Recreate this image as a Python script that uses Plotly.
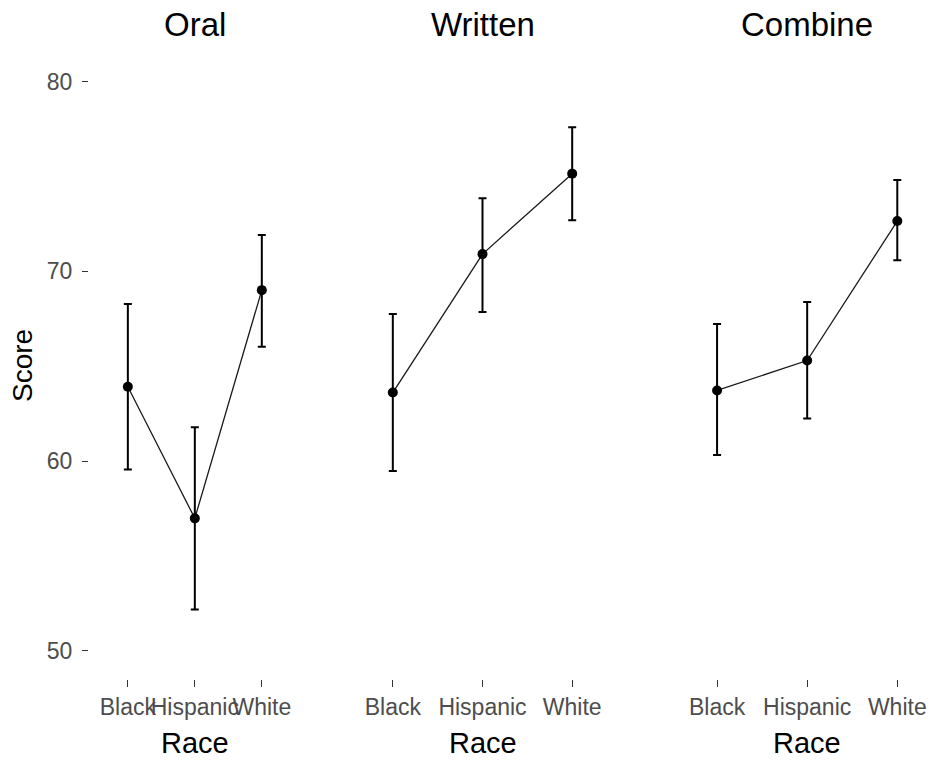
import plotly.graph_objects as go

# Group means and interval bounds by race, for each score type
races = ["Black", "Hispanic", "White"]
panels = ["Oral", "Written", "Combine"]

oral_mean = [63.92, 56.98, 69.01]
oral_lo = [59.56, 52.18, 66.03]
oral_hi = [68.28, 61.78, 71.91]

written_mean = [63.61, 70.91, 75.15]
written_lo = [59.47, 67.86, 72.70]
written_hi = [67.75, 73.86, 77.60]

combine_mean = [63.72, 65.30, 72.65]
combine_lo = [60.32, 62.24, 70.59]
combine_hi = [67.23, 68.38, 74.82]

y_ticks = [50, 60, 70, 80]

W, H = 930, 763
FONT = "Liberation Sans, Arial, sans-serif"
TICK_GREY = "#4D4D4D"

series = [
    (oral_mean, oral_lo, oral_hi),
    (written_mean, written_lo, written_hi),
    (combine_mean, combine_lo, combine_hi),
]

# panel extents in pixels and category ranges for each x axis
panel_px = [(89, 302), (339, 626), (663, 930)]
x_ranges = [[-0.58, 2.6], [-0.6, 2.6], [-0.6, 2.363]]

fig = go.Figure()
for i, (mean, lo, hi) in enumerate(series):
    xa = "x" if i == 0 else f"x{i + 1}"
    fig.add_trace(go.Scatter(
        x=races, y=mean, xaxis=xa, yaxis="y",
        mode="lines+markers",
        line=dict(color="#1a1a1a", width=1.3),
        marker=dict(color="black", size=10),
        error_y=dict(
            type="data", symmetric=False,
            array=[h - m for h, m in zip(hi, mean)],
            arrayminus=[m - l for m, l in zip(mean, lo)],
            color="black", thickness=2, width=4,
        ),
        showlegend=False, hoverinfo="skip",
    ))

y_lo, y_hi = 48.5, 81.5
y_dom = [(H - 679.2) / H, (H - 53.2) / H]

layout = dict(
    width=W, height=H, autosize=False,
    margin=dict(l=0, r=0, t=0, b=0),
    paper_bgcolor="white", plot_bgcolor="white",
    font=dict(family=FONT),
    yaxis=dict(
        domain=y_dom, range=[y_lo, y_hi], tickvals=y_ticks,
        showgrid=False, zeroline=False, showline=False,
        ticks="outside", ticklen=6, tickwidth=1.2, tickcolor="#333333",
        tickfont=dict(size=23, color=TICK_GREY, family=FONT),
        ticklabelstandoff=5, anchor="x",
    ),
)

annotations = []
for i, ((p0, p1), rng) in enumerate(zip(panel_px, x_ranges)):
    key = "xaxis" if i == 0 else f"xaxis{i + 1}"
    layout[key] = dict(
        domain=[p0 / W, p1 / W], range=rng, type="category",
        categoryorder="array", categoryarray=races,
        showgrid=False, zeroline=False, showline=False,
        ticks="outside", ticklen=7, tickwidth=1.2, tickcolor="#333333",
        tickfont=dict(size=23, color=TICK_GREY, family=FONT),
        tickangle=0, ticklabelstandoff=0, anchor="y",
    )
    # pixel centre of the middle category
    mid = p0 + (1 - rng[0]) / (rng[1] - rng[0]) * (p1 - p0)
    annotations.append(dict(
        text=panels[i], x=mid / W, y=1 - 24.5 / H, xref="paper", yref="paper",
        xanchor="center", yanchor="middle", showarrow=False,
        font=dict(size=33, color="black", family=FONT),
    ))
    annotations.append(dict(
        text="Race", x=mid / W, y=1 - 742.5 / H, xref="paper", yref="paper",
        xanchor="center", yanchor="middle", showarrow=False,
        font=dict(size=29, color="black", family=FONT),
    ))

annotations.append(dict(
    text="Score", x=22 / W, y=1 - 366 / H, xref="paper", yref="paper",
    xanchor="center", yanchor="middle", showarrow=False, textangle=-90,
    font=dict(size=28, color="black", family=FONT),
))

layout["annotations"] = annotations
fig.update_layout(**layout)

# keep the page flush with the figure so nothing scrolls
page_css = (
    "document.documentElement.style.margin='0';"
    "document.body.style.margin='0';"
    "document.body.style.overflow='hidden';"
)
fig.write_html("out.html", config={"responsive": False}, post_script=page_css)
